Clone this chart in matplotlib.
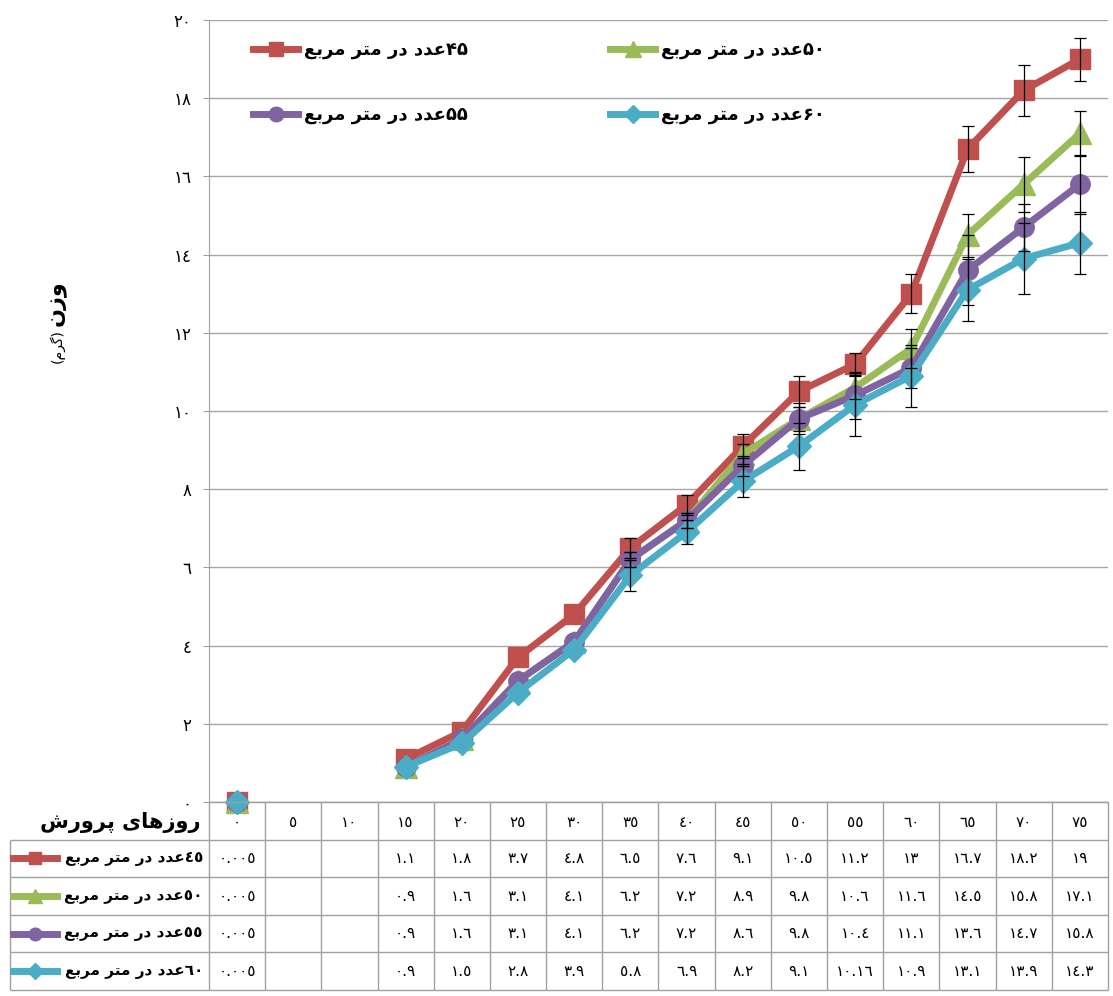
import re
import numpy as np
import matplotlib
matplotlib.use("Agg")
import matplotlib.pyplot as plt

plt.rcParams['font.family'] = ['DejaVu Sans']

# days of rearing (x categories)
days = [0, 5, 10, 15, 20, 25, 30, 35, 40, 45, 50, 55, 60, 65, 70, 75]
densities = [45, 50, 55, 60]
nan = np.nan
w45 = [0.005, nan, nan, 1.1, 1.8, 3.7, 4.8, 6.5, 7.6, 9.1, 10.5, 11.2, 13, 16.7, 18.2, 19]
w50 = [0.005, nan, nan, 0.9, 1.6, 3.1, 4.1, 6.2, 7.2, 8.9, 9.8, 10.6, 11.6, 14.5, 15.8, 17.1]
w55 = [0.005, nan, nan, 0.9, 1.6, 3.1, 4.1, 6.2, 7.2, 8.6, 9.8, 10.4, 11.1, 13.6, 14.7, 15.8]
w60 = [0.005, nan, nan, 0.9, 1.5, 2.8, 3.9, 5.8, 6.9, 8.2, 9.1, 10.16, 10.9, 13.1, 13.9, 14.3]
# error bars
e45 = [nan] * 7 + [0.25, 0.25, 0.3, 0.4, 0.28, 0.5, 0.6, 0.65, 0.55]
e50 = [nan] * 7 + [0.2, 0.2, 0.25, 0.3, 0.3, 0.5, 0.55, 0.7, 0.57]
e55 = [nan] * 7 + [0.2, 0.2, 0.25, 0.4, 0.6, 0.5, 0.9, 0.6, 0.75]
e60 = [nan] * 7 + [0.4, 0.3, 0.4, 0.6, 0.8, 0.8, 0.8, 0.9, 0.8]

weights = [w45, w50, w55, w60]
errors = [e45, e50, e55, e60]
colors = ['#c0504d', '#9bbb59', '#8064a2', '#4bacc6']
markers = ['s', '^', 'o', 'D']
msizes = [14, 16, 14, 12]

# --- minimal arabic shaping (matplotlib has no text shaping) ---
FORMS = {
    'ا': ('\uFE8D', '\uFE8E'),
    'ب': ('\uFE8F', '\uFE90', '\uFE91', '\uFE92'),
    'پ': ('\uFB56', '\uFB57', '\uFB58', '\uFB59'),
    'ت': ('\uFE95', '\uFE96', '\uFE97', '\uFE98'),
    'د': ('\uFEA9', '\uFEAA'),
    'ر': ('\uFEAD', '\uFEAE'),
    'ز': ('\uFEAF', '\uFEB0'),
    'ش': ('\uFEB5', '\uFEB6', '\uFEB7', '\uFEB8'),
    'ع': ('\uFEC9', '\uFECA', '\uFECB', '\uFECC'),
    'گ': ('\uFB92', '\uFB93', '\uFB94', '\uFB95'),
    'م': ('\uFEE1', '\uFEE2', '\uFEE3', '\uFEE4'),
    'ن': ('\uFEE5', '\uFEE6', '\uFEE7', '\uFEE8'),
    'ه': ('\uFEE9', '\uFEEA', '\uFEEB', '\uFEEC'),
    'و': ('\uFEED', '\uFEEE'),
    'ی': ('\uFBFC', '\uFBFD', '\uFBFE', '\uFBFF'),
}


def shape(s):
    out = []
    for i, c in enumerate(s):
        if c not in FORMS:
            out.append(c)
            continue
        f = FORMS[c]
        prev = s[i - 1] if i > 0 else ''
        nxt = s[i + 1] if i + 1 < len(s) else ''
        pj = prev in FORMS and len(FORMS[prev]) == 4
        nj = nxt in FORMS and len(f) == 4
        if pj and nj:
            out.append(f[3])
        elif pj:
            out.append(f[1])
        elif nj:
            out.append(f[2])
        else:
            out.append(f[0])
    vis = ''.join(out)[::-1]
    vis = vis.translate(str.maketrans('()', ')('))
    return re.sub(r'[0-9\u0660-\u0669\u06F0-\u06F9.]+', lambda m: m.group(0)[::-1], vis)


AR = str.maketrans('0123456789', '٠١٢٣٤٥٦٧٨٩')
FA = str.maketrans('0123456789', '۰۱۲۳۴۵۶۷۸۹')


def ar(v):
    if isinstance(v, float) and np.isnan(v):
        return ''
    return str(v).translate(AR)


W, H = 1113, 996
fig = plt.figure(figsize=(W / 100, H / 100), dpi=100)
x0, x1, ytop, ybot = 209, 1108, 20, 802
unit = (x1 - x0) / len(days)
ax = fig.add_axes([x0 / W, 1 - ybot / H, (x1 - x0) / W, (ybot - ytop) / H])
x = np.arange(len(days))

lines = []
for w, e, c, m, ms in zip(weights, errors, colors, markers, msizes):
    l, = ax.plot(x, w, color=c, lw=5, marker=m, ms=ms, mec=c, zorder=3, clip_on=False)
    lines.append(l)
for w, e in zip(weights, errors):
    w = np.array(w, float)
    e = np.array(e, float)
    ok = ~np.isnan(e)
    ax.errorbar(x[ok], w[ok], yerr=e[ok], fmt='none', ecolor='black', elinewidth=0.9,
                capsize=4, capthick=0.9, zorder=5)

ax.set_xlim(-0.5, len(days) - 0.5)
ax.set_ylim(0, 20)
yt = np.arange(0, 21, 2)
ax.set_yticks(yt)
ax.set_yticklabels([ar(int(v)) for v in yt])
ax.set_xticks([])
ax.grid(axis='y', color='#a6a6a6', lw=1)
ax.set_axisbelow(True)
for s in ['top', 'right']:
    ax.spines[s].set_visible(False)
ax.spines['left'].set_color('#a0a0a0')
ax.spines['bottom'].set_color('#a0a0a0')
ax.tick_params(axis='y', direction='out', length=4.5, color='#a0a0a0', labelsize=12, pad=8)

# legends
leg_kw = dict(frameon=False, prop={'weight': 'bold', 'size': 13}, markerscale=0.75,
              handlelength=2.5, handletextpad=0.3, labelspacing=2.6, borderpad=0,
              borderaxespad=0, loc='upper left', bbox_transform=fig.transFigure)
lab = [shape(str(d).translate(FA) + 'عدد در متر مربع') for d in densities]
leg1 = ax.legend([lines[0], lines[2]], [lab[0], lab[2]], bbox_to_anchor=(253 / W, 1 - 41 / H), **leg_kw)
ax.add_artist(leg1)
ax.legend([lines[1], lines[3]], [lab[1], lab[3]], bbox_to_anchor=(610 / W, 1 - 41 / H), **leg_kw)

# data table
tl = 10
tab = fig.add_axes([tl / W, 1 - 990 / H, (x1 - tl) / W, (990 - ybot) / H])
xl = -0.5 - (x0 - tl) / unit
tab.set_xlim(xl, len(days) - 0.5)
tab.set_ylim(5, 0)
tab.axis('off')
gc = '#a0a0a0'
tab.hlines([1, 2, 3, 4, 5], xl, len(days) - 0.5, color=gc, lw=1, clip_on=False)
tab.hlines(0, -0.5, len(days) - 0.5, color=gc, lw=1, clip_on=False)
tab.vlines(np.arange(-0.5, len(days)), 0, 5, color=gc, lw=1, clip_on=False)
tab.vlines(xl, 1, 5, color=gc, lw=1, clip_on=False)
for i, d in enumerate(days):
    tab.text(i, 0.55, ar(d), ha='center', va='center', fontsize=11)
rlab = [shape(str(d).translate(AR) + 'عدد در متر مربع') for d in densities]
for r, (w, c, m, ms) in enumerate(zip(weights, colors, markers, msizes)):
    yy = r + 1.5
    for i, v in enumerate(w):
        tab.text(i, yy, ar(v), ha='center', va='center', fontsize=11)
    hx = [xl + 3 / unit, xl + 25 / unit, xl + 47 / unit]
    tab.plot(hx, [yy] * 3, color=c, lw=5, marker=m, ms=ms * 0.65, markevery=[1], clip_on=False)
    tab.text(-0.5 - 6 / unit, yy, rlab[r], ha='right', va='center', fontsize=11, weight='bold')

fig.text(200 / W, 1 - 822 / H, shape('روزهای پرورش'), ha='right', va='center', fontsize=15, weight='bold')
fig.text(57 / W, 1 - 303 / H, shape('وزن'), rotation=90, ha='center', va='center', fontsize=16, weight='bold')
fig.text(57 / W, 1 - 346 / H, shape('(گرم)'), rotation=90, ha='center', va='center', fontsize=10)

fig.savefig('out.png', dpi=100)
